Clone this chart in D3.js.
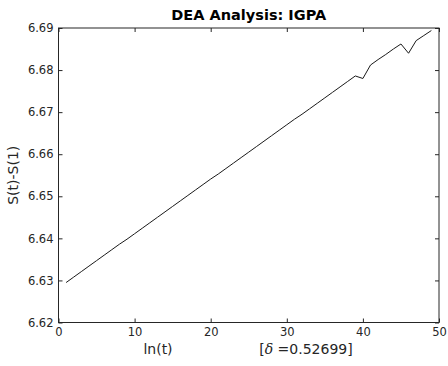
<!DOCTYPE html>
<html>
<head>
<meta charset="utf-8">
<script src="https://cdn.jsdelivr.net/npm/d3@7"></script>
<style>
body{margin:0;background:#fff;}
svg text{font-family:"DejaVu Sans",sans-serif;fill:#262626;}
</style>
</head>
<body>
<svg width="448" height="366"></svg>
<script>
// ln(t) index and S(t)-S(1) values
var tValues = [1,2,3,4,5,6,7,8,9,10,11,12,13,14,15,16,17,18,19,20,21,22,23,24,25,
    26,27,28,29,30,31,32,33,34,35,36,37,38,39,40,41,42,43,44,45,46,47,48,49];
var sValues = [6.6295,6.6308,6.6321,6.6334,6.6347,6.6360,6.6373,6.6386,6.6398,6.6411,
    6.6424,6.6437,6.6450,6.6463,6.6476,6.6489,6.6502,6.6515,6.6528,6.6541,
    6.6553,6.6566,6.6579,6.6592,6.6605,6.6618,6.6631,6.6644,6.6657,6.6670,
    6.6683,6.6695,6.6708,6.6721,6.6734,6.6747,6.6760,6.6773,6.6786,6.6780,
    6.6812,6.6825,6.6837,6.6850,6.6862,6.6840,6.6870,6.6882,6.6894];
var xTicks = [0,10,20,30,40,50];
var yTicks = [6.62,6.63,6.64,6.65,6.66,6.67,6.68,6.69];

function main(){
    var svg = d3.select("svg");
    var left = 58.5, right = 439, top = 28, bottom = 322.5;

    var xScale = d3.scaleLinear().domain([0,50]).range([left,right]),
    yScale = d3.scaleLinear().domain([6.62,6.69]).range([bottom,top]);

    var data = tValues.map(function(t,i){return {t:t, s:sValues[i]};});

    // box
    svg.append("rect")
        .attr("x",left).attr("y",top)
        .attr("width",right-left).attr("height",bottom-top)
        .attr("fill","none").attr("stroke","#262626").attr("stroke-width",1);

    // axes, ticks pointing inward
    var axisStyle = function(g){
        g.select(".domain").remove();
        g.selectAll("line").attr("stroke","#262626");
        g.selectAll("text").attr("font-size","11.5px").attr("fill","#404040")
            .style("font-family","DejaVu Sans");
    };
    svg.append("g").attr("transform","translate(0,"+bottom+")")
        .call(d3.axisBottom(xScale).tickValues(xTicks).tickSizeInner(-4).tickPadding(5).tickFormat(d3.format("d")))
        .call(axisStyle);
    svg.append("g").attr("transform","translate(0,"+top+")")
        .call(d3.axisTop(xScale).tickValues(xTicks).tickSizeInner(-4).tickFormat(""))
        .call(axisStyle);
    svg.append("g").attr("transform","translate("+left+",0)")
        .call(d3.axisLeft(yScale).tickValues(yTicks).tickSizeInner(-4).tickPadding(5).tickFormat(d3.format(".2f")))
        .call(axisStyle);
    svg.append("g").attr("transform","translate("+right+",0)")
        .call(d3.axisRight(yScale).tickValues(yTicks).tickSizeInner(-4).tickFormat(""))
        .call(axisStyle);

    var line = d3.line()
        .x(function(d){return xScale(d.t);})
        .y(function(d){return yScale(d.s);});

    svg.append("path")
        .datum(data)
        .attr("d",line)
        .attr("fill","none")
        .attr("stroke","#1a1a1a")
        .attr("stroke-width",1);

    svg.append("text")
        .attr("x",(left+right)/2).attr("y",20)
        .attr("text-anchor","middle")
        .attr("font-size","14.5px").attr("font-weight","bold")
        .style("fill","#000")
        .text("DEA Analysis: IGPA");

    svg.append("text")
        .attr("x",158).attr("y",354)
        .attr("text-anchor","middle")
        .attr("font-size","14px")
        .text("ln(t)");

    var dl = svg.append("text")
        .attr("x",306).attr("y",354)
        .attr("text-anchor","middle")
        .attr("font-size","14px");
    dl.append("tspan").text("[");
    dl.append("tspan").attr("font-style","italic").style("font-family","DejaVu Serif").text("\u03B4");
    dl.append("tspan").text(" =0.52699]");

    svg.append("text")
        .attr("transform","translate(18,"+((top+bottom)/2)+") rotate(-90)")
        .attr("text-anchor","middle")
        .attr("font-size","14px")
        .text("S(t)-S(1)");
}
main();
</script>
</body>
</html>
